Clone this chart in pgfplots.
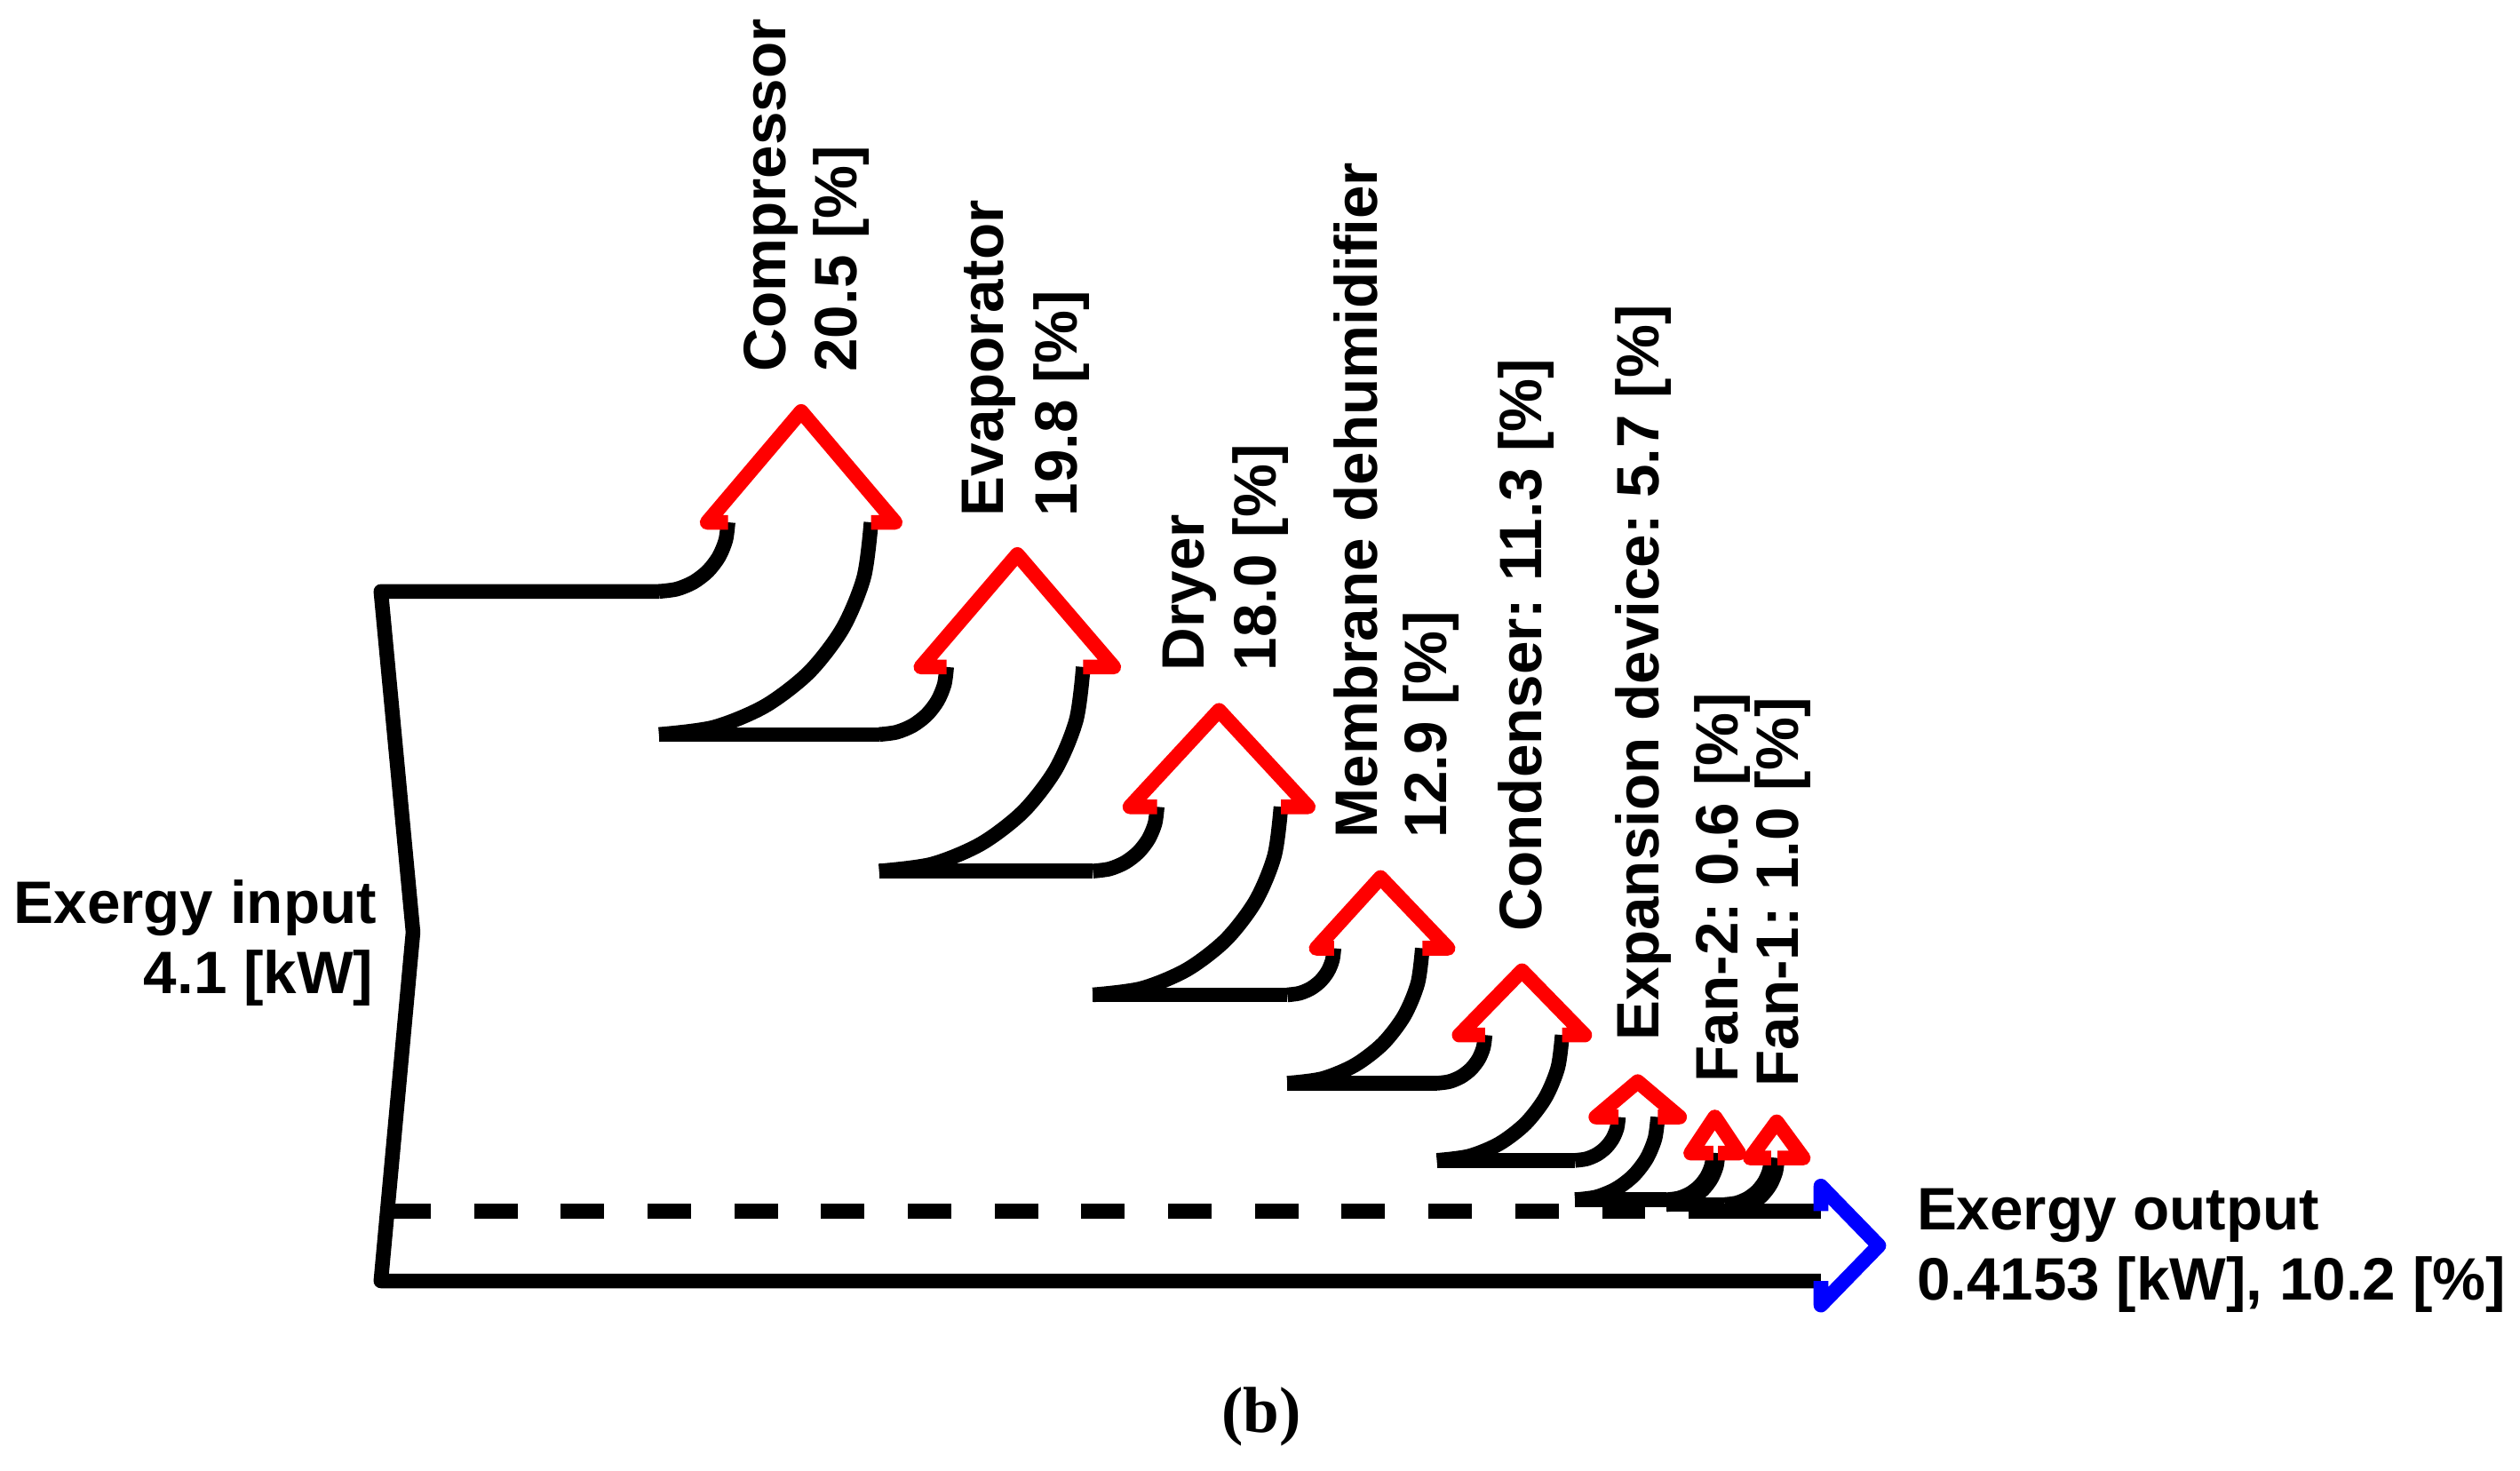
\documentclass[border=0pt]{standalone}
\usepackage{pgfplots}
\pgfplotsset{compat=1.18}
\usepackage{fontspec}
\setmainfont{Liberation Sans}
\newfontfamily\seriffont{Liberation Serif}
\frenchspacing
\tikzset{
  lbl/.style={font=\fontsize{10.6}{12.7}\selectfont\bfseries, inner sep=0pt},
  rl/.style={lbl, rotate=90, anchor=base west},
}

\begin{document}
\begin{tikzpicture}
\useasboundingbox (0,0) rectangle (15.68cm,9.15cm);
\begin{axis}[
  at={(0,0)}, anchor=south west,
  width=15.68cm, height=9.15cm, scale only axis,
  xmin=0, xmax=1568, ymin=0, ymax=915, y dir=reverse,
  hide axis, clip=false,
  every axis plot/.append style={line width=2.6pt, line join=round, line cap=butt, mark=none},
]
% ---- main flow outline ----
\addplot[black] coordinates {(410,368) (237,368) (257,580) (237,797) (1133,797)};
\addplot[black, dash pattern=on 7.68pt off 7.68pt] coordinates {(241,753.5) (1133,753.5)};
% ---- horizontal edges between branches ----
\addplot[black] coordinates {(410,457) (547,457)};
\addplot[black] coordinates {(547,542) (680,542)};
\addplot[black] coordinates {(680,619) (801,619)};
\addplot[black] coordinates {(801,674) (894,674)};
\addplot[black] coordinates {(894,722) (980,722)};
\addplot[black] coordinates {(980,746.5) (1037,746.5)};
\addplot[black] coordinates {(1037,749.5) (1073,749.5)};
\addplot[black] coordinates {(1073,753.5) (1133,753.5)};
% ---- Compressor 20.5 % ----
\addplot[black, smooth] coordinates {(410,368) (421.13,366.53) (431.5,362.24) (440.41,355.41) (447.24,346.5) (451.53,336.13) (453,325)};
\addplot[black, smooth] coordinates {(410,457) (444.16,452.5) (476,439.31) (503.34,418.34) (524.31,391) (537.5,359.16) (542,325)};
% ---- Evaporator 19.8 % ----
\addplot[black, smooth] coordinates {(547,457) (557.87,455.57) (568,451.37) (576.70,444.70) (583.37,436) (587.57,425.87) (589,415)};
\addplot[black, smooth] coordinates {(547,542) (579.87,537.67) (610.5,524.98) (636.80,504.80) (656.98,478.5) (669.67,447.87) (674,415)};
% ---- Dryer 18.0 % ----
\addplot[black, smooth] coordinates {(680,542) (690.35,540.64) (700,536.64) (708.28,530.28) (714.64,522) (718.64,512.35) (720,502)};
\addplot[black, smooth] coordinates {(680,619) (710.28,615.01) (738.5,603.32) (762.73,584.73) (781.32,560.5) (793.01,532.28) (797,502)};
% ---- Membrane dehumidifier 12.9 % ----
\addplot[black, smooth] coordinates {(801,619) (808.51,618.01) (815.5,615.11) (821.51,610.51) (826.11,604.5) (829.01,597.51) (830,590)};
\addplot[black, smooth] coordinates {(801,674) (822.74,671.14) (843,662.74) (860.40,649.40) (873.74,632) (882.14,611.74) (885,590)};
% ---- Condenser 11.3 % ----
\addplot[black, smooth] coordinates {(894,674) (901.76,672.98) (909,669.98) (915.21,665.21) (919.98,659) (922.98,651.76) (924,644)};
\addplot[black, smooth] coordinates {(894,722) (914.19,719.34) (933,711.55) (949.15,699.15) (961.55,683) (969.34,664.19) (972,644)};
% ---- Expansion device 5.7 % ----
\addplot[black, smooth] coordinates {(980,722) (986.99,721.08) (993.5,718.38) (999.09,714.09) (1003.38,708.5) (1006.08,701.99) (1007,695)};
\addplot[black, smooth] coordinates {(980,746.5) (993.33,744.74) (1005.75,739.60) (1016.42,731.42) (1024.60,720.75) (1029.74,708.33) (1031.5,695)};
% ---- Fan-2 0.6 % ----
\addplot[black, smooth] coordinates {(1037,746.5) (1044.51,745.51) (1051.5,742.61) (1057.51,738.01) (1062.11,732) (1065.01,725.01) (1066,717.5)};
\addplot[black, smooth] coordinates {(1037,749.5) (1045.28,748.41) (1053,745.21) (1059.63,740.13) (1064.71,733.5) (1067.91,725.78) (1069,717.5)};
% ---- Fan-1 1.0 % ----
\addplot[black, smooth] coordinates {(1073,749.5) (1080.51,748.51) (1087.5,745.61) (1093.51,741.01) (1098.11,735) (1101.01,728.01) (1102,720.5)};
\addplot[black, smooth] coordinates {(1073,753.5) (1081.54,752.37) (1089.5,749.08) (1096.33,743.83) (1101.58,737) (1104.87,729.04) (1106,720.5)};
% ---- red arrowheads (losses) ----
\addplot[red] coordinates {(453,325) (440,325) (498.5,256) (557,325) (542,325)};
\addplot[red] coordinates {(589,415) (573,415) (633,345) (693,415) (674,415)};
\addplot[red] coordinates {(720,502) (703,502) (758.5,442) (814,502) (797,502)};
\addplot[red] coordinates {(830,590) (819,590) (859,546) (901,590) (885,590)};
\addplot[red] coordinates {(924,644) (908,644) (947,604) (986,644) (972,644)};
\addplot[red] coordinates {(1007,695) (993,695) (1019,673) (1045,695) (1031.5,695)};
\addplot[red] coordinates {(1066,717.5) (1052,717.5) (1067,695) (1082,717.5) (1069,717.5)};
\addplot[red] coordinates {(1102,720.5) (1089,720.5) (1105.5,698) (1122,720.5) (1106,720.5)};
% ---- blue output arrowhead ----
\addplot[blue] coordinates {(1133,753.5) (1133,738) (1169,775) (1133,812) (1133,797)};
% ---- labels ----
\node[lbl, anchor=base east] at (235,574.5) {Exergy input};
\node[lbl, anchor=base east] at (233,618) {4.1 [kW]};
\node[lbl, anchor=base west] at (1192,765) {Exergy output};
\node[lbl, anchor=base west] at (1192,809) {0.4153 [kW], 10.2 [\%]};
\node[rl] at (489,232) {Compressor};
\node[rl] at (533,232) {20.5 [\%]};
\node[rl] at (624,322) {Evaporator};
\node[rl] at (670,322) {19.8 [\%]};
\node[rl] at (749,418) {Dryer};
\node[rl] at (794,418) {18.0 [\%]};
\node[rl] at (857,522) {Membrane dehumidifier};
\node[rl] at (900,522) {12.9 [\%]};
\node[rl] at (959,580) {Condenser: 11.3 [\%]};
\node[rl] at (1032,648) {Expansion device: 5.7 [\%]};
\node[rl] at (1081.5,674) {Fan-2: 0.6 [\%]};
\node[rl] at (1119,677) {Fan-1: 1.0 [\%]};
\node[font=\seriffont\fontsize{11.5}{13.8}\selectfont\bfseries, inner sep=0pt, anchor=base] at (785,891) {(b)};
\end{axis}
\end{tikzpicture}
\end{document}
